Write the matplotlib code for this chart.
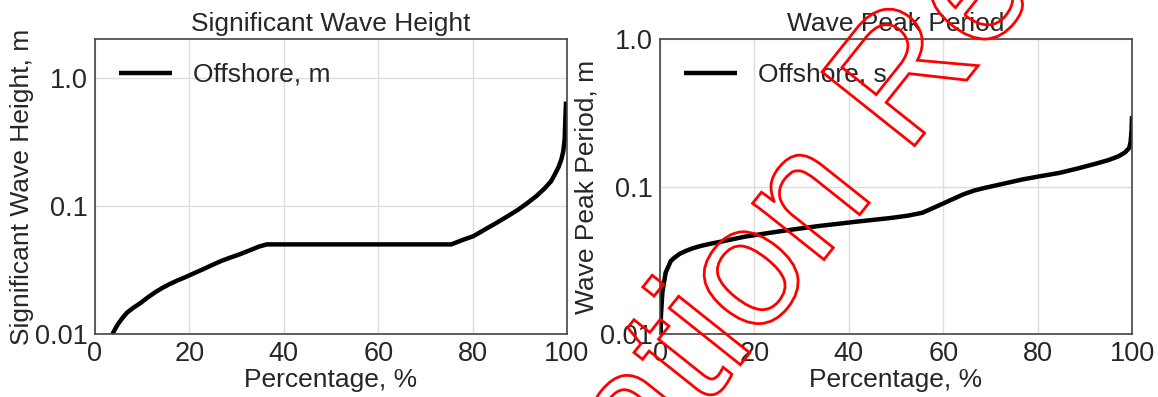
import matplotlib
matplotlib.use('Agg')
import matplotlib.pyplot as plt
from matplotlib.font_manager import FontProperties
from matplotlib.patches import PathPatch
from matplotlib.textpath import TextPath
from matplotlib.transforms import Affine2D

# ---------------------------------------------------------------------------
# Data
# ---------------------------------------------------------------------------
hs_pct = [3.7, 4.3, 4.9, 5.8, 6.8, 8.1, 9.6, 11.1, 12.7, 14.2, 15.8, 17.4,
          19.0, 20.9, 22.9, 24.8, 26.8, 28.7, 30.7, 32.7, 34.7, 36.4,
          75.5, 77.8, 80.2, 82.5, 84.9, 87.2, 89.6, 91.6, 93.5, 95.2, 96.6,
          97.4, 98.2, 98.8, 99.2, 99.5, 99.6, 99.7, 99.8]
hs_val = [0.0100, 0.0110, 0.0120, 0.0133, 0.0147, 0.0160, 0.0174, 0.0192,
          0.0211, 0.0228, 0.0245, 0.0261, 0.0276, 0.0297, 0.0320, 0.0345,
          0.0372, 0.0395, 0.0419, 0.0448, 0.0480, 0.0500,
          0.0500, 0.0540, 0.0580, 0.0650, 0.0730, 0.0820, 0.0930, 0.1050,
          0.1190, 0.1360, 0.1550, 0.1750, 0.2000, 0.2300, 0.2650, 0.3300,
          0.4200, 0.5300, 0.6500]

tp_pct = [0.15, 0.2, 0.5, 1.2, 2.3, 3.1, 4.2, 5.5, 7.0, 8.6, 10.5, 12.5,
          15.2, 18.0, 21.9, 25.8, 29.7, 33.7, 37.6, 41.5, 45.4, 49.3, 52.6,
          55.6, 58.0, 61.1, 64.2, 66.6, 68.9, 72.8, 76.7, 80.6, 84.6, 88.5,
          92.4, 95.0, 97.1, 98.5, 99.4, 99.7, 99.9, 100.0]
tp_val = [0.0100, 0.0133, 0.0191, 0.0261, 0.0313, 0.0330, 0.0350, 0.0366,
          0.0382, 0.0395, 0.0408, 0.0420, 0.0438, 0.0457, 0.0478, 0.0499,
          0.0519, 0.0540, 0.0558, 0.0577, 0.0595, 0.0614, 0.0635, 0.0664,
          0.0718, 0.0796, 0.0883, 0.0940, 0.0980, 0.1045, 0.1115, 0.1175,
          0.1236, 0.1325, 0.1430, 0.1510, 0.1600, 0.1700, 0.1825, 0.2000,
          0.2400, 0.3000]

x_ticks = [0, 20, 40, 60, 80, 100]
y_ticks = [0.01, 0.1, 1.0]
y_tick_labels = ['0.01', '0.1', '1.0']

WATERMARK = 'Evaluation Results'

TEXT = '#262626'

plt.rcParams['font.family'] = ['Liberation Sans', 'DejaVu Sans']
plt.rcParams['text.color'] = TEXT
plt.rcParams['axes.labelcolor'] = TEXT
plt.rcParams['xtick.color'] = TEXT
plt.rcParams['ytick.color'] = TEXT

W, H = 1158, 397
fig = plt.figure(figsize=(W / 100, H / 100), dpi=100)


def make_axes(left_px, title, ylabel, x, y, label, ylim):
    ax = fig.add_axes([left_px / W, (H - 334) / H, 472 / W, 295 / H])
    ax.plot(x, y, color='black', linewidth=3.2, label=label,
            solid_joinstyle='round', solid_capstyle='butt')
    ax.set_yscale('log')
    ax.set_xlim(0, 100)
    ax.set_ylim(*ylim)
    ax.set_xticks(x_ticks)
    ax.set_yticks(y_ticks, labels=y_tick_labels)
    ax.minorticks_off()
    ax.tick_params(length=0, labelsize=19.5, pad=5)
    ax.grid(True, color='#dddddd', linewidth=1)
    for sp in ax.spines.values():
        sp.set_color('#444444')
        sp.set_linewidth(1.2)
    ax.set_title(title, fontsize=19, pad=6)
    ax.set_xlabel('Percentage, %', fontsize=19, labelpad=1)
    ax.set_ylabel(ylabel, fontsize=19, labelpad=1)
    ax.legend(loc='upper left', frameon=False, fontsize=19)
    return ax


make_axes(95, 'Significant Wave Height', 'Significant Wave Height, m',
          hs_pct, hs_val, 'Offshore, m', (0.01, 2.0))
make_axes(660, 'Wave Peak Period', 'Wave Peak Period, m',
          tp_pct, tp_val, 'Offshore, s', (0.01, 1.0))

# red outlined watermark across the right panel
prop = FontProperties(family='Liberation Sans')
size = 172
path = TextPath((0, 0), WATERMARK, size=size, prop=prop)
x0 = TextPath((0, 0), 'Evaluati', size=size, prop=prop).get_extents().x1 + 10
tr = Affine2D().translate(-x0, 0).rotate_deg(51.5).translate(756, 52)
fig.add_artist(PathPatch(tr.transform_path(path), facecolor='none',
                         edgecolor='red', linewidth=2.0,
                         transform=None, zorder=10))

fig.savefig('out.png', dpi=100)
